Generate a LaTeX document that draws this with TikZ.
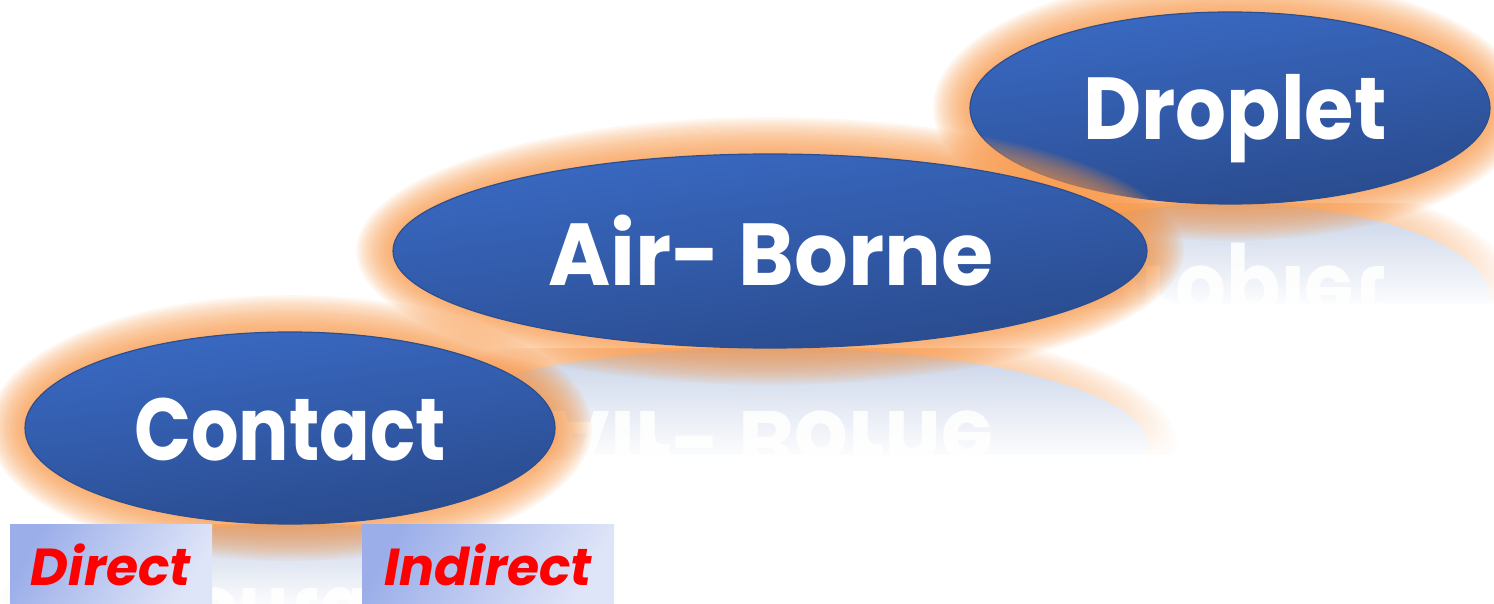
\documentclass[tikz,border=0pt]{standalone}
\usepackage{fontspec}
\setmainfont{Poppins}
\usetikzlibrary{shapes.geometric,fadings}
\definecolor{glowc}{HTML}{F79646}
\definecolor{ovaltop}{HTML}{3A6AC4}
\definecolor{ovalbot}{HTML}{294A8C}
\definecolor{ovalline}{HTML}{2D4E8E}
\definecolor{reflc}{HTML}{C8D3E8}
\definecolor{boxdark}{HTML}{9BAEE9}
\definecolor{boxlight}{HTML}{DFE5F8}
\definecolor{labred}{HTML}{FF0000}
\tikzfading[name=fadedown, top color=transparent!100, bottom color=transparent!0]
\tikzset{
  oval/.style={ellipse, draw=ovalline, line width=1.2pt, inner sep=0pt,
    top color=ovaltop, bottom color=ovalbot, shading angle=8},
  ovaltext/.style={text=white, font=\fontsize{88}{100}\selectfont\bfseries, inner sep=0pt},
  labbox/.style={inner sep=0pt, shading=axis, left color=boxdark, right color=boxlight, shading angle=60},
  labtext/.style={text=labred, font=\fontsize{52}{60}\selectfont\bfseries\itshape, inner sep=0pt}
}
% glow around an ellipse: cx cy rx ry
\newcommand\glowring[4]{%
  \foreach \k in {1,...,16}{\fill[glowc, opacity=0.08] (#1,#2) ellipse [x radius={#3+2.3*\k}, y radius={#4+2.3*\k}];}}
% reflection: #1 cx, #2 cy, #3 rx, #4 ry, #5 band, #6 text x, #7 mirrored baseline, #8 name, #9 text
\newcommand\mirrorpart[9]{%
  \begin{scope}
    \clip (#1-#3-45,#2+#4) rectangle (#1+#3+45,#2+#4+#5-6);
    \foreach \k in {1,...,14}{\fill[glowc, opacity=0.05] (#1,#2+2*#4) ellipse [x radius={#3+2.2*\k}, y radius={#4+2.2*\k}];}
    \fill[reflc] (#1,#2+2*#4) ellipse [x radius=#3, y radius=#4];
    \node[ovaltext, opacity=0.9, yscale=-1, anchor=base] (#8) at (#6,#7) {#9};
  \end{scope}
  \fill[white, path fading=fadedown] (#1-#3-47,#2+#4) rectangle (#1+#3+47,#2+#4+#5);}
\begin{document}
\begin{tikzpicture}[x=1pt,y=-1pt]
\useasboundingbox (0,0) rectangle (1494,604);
% Droplet
\mirrorpart{1230}{108}{260}{96}{105}{1235}{266}{dropletrefl}{\scalebox{0.91}[1]{Droplet}}
\glowring{1230}{108}{260}{96}
\node[oval, minimum width=520pt, minimum height=192pt] (droplet) at (1230,108) {};
\node[ovaltext, anchor=base] (droplettext) at (1235,140) {\scalebox{0.91}[1]{Droplet}};
% Air-Borne
\mirrorpart{770}{251}{377}{97}{112}{771}{411}{airrefl}{\scalebox{0.96}[1]{Air- Borne}}
\glowring{770}{251}{377}{97}
\node[oval, minimum width=754pt, minimum height=194pt] (airborne) at (770,251) {};
\node[ovaltext, anchor=base] (airbornetext) at (771,285) {\scalebox{0.96}[1]{Air- Borne}};
% Contact
\mirrorpart{290}{428}{265}{96}{86}{290}{588}{contactrefl}{\scalebox{0.85}[1]{Contact}}
\glowring{290}{428}{265}{96}
\node[oval, minimum width=530pt, minimum height=192pt] (contact) at (290,428) {};
\node[ovaltext, anchor=base] (contacttext) at (290,460) {\scalebox{0.85}[1]{Contact}};
% label boxes
\node[labbox, minimum width=202pt, minimum height=80pt] (directbox) at (111,564) {};
\node[labtext, anchor=base] (direct) at (111,585) {Direct};
\node[labbox, minimum width=252pt, minimum height=80pt] (indirectbox) at (488,564) {};
\node[labtext, anchor=base] (indirect) at (488,585) {Indirect};
\end{tikzpicture}
\end{document}
